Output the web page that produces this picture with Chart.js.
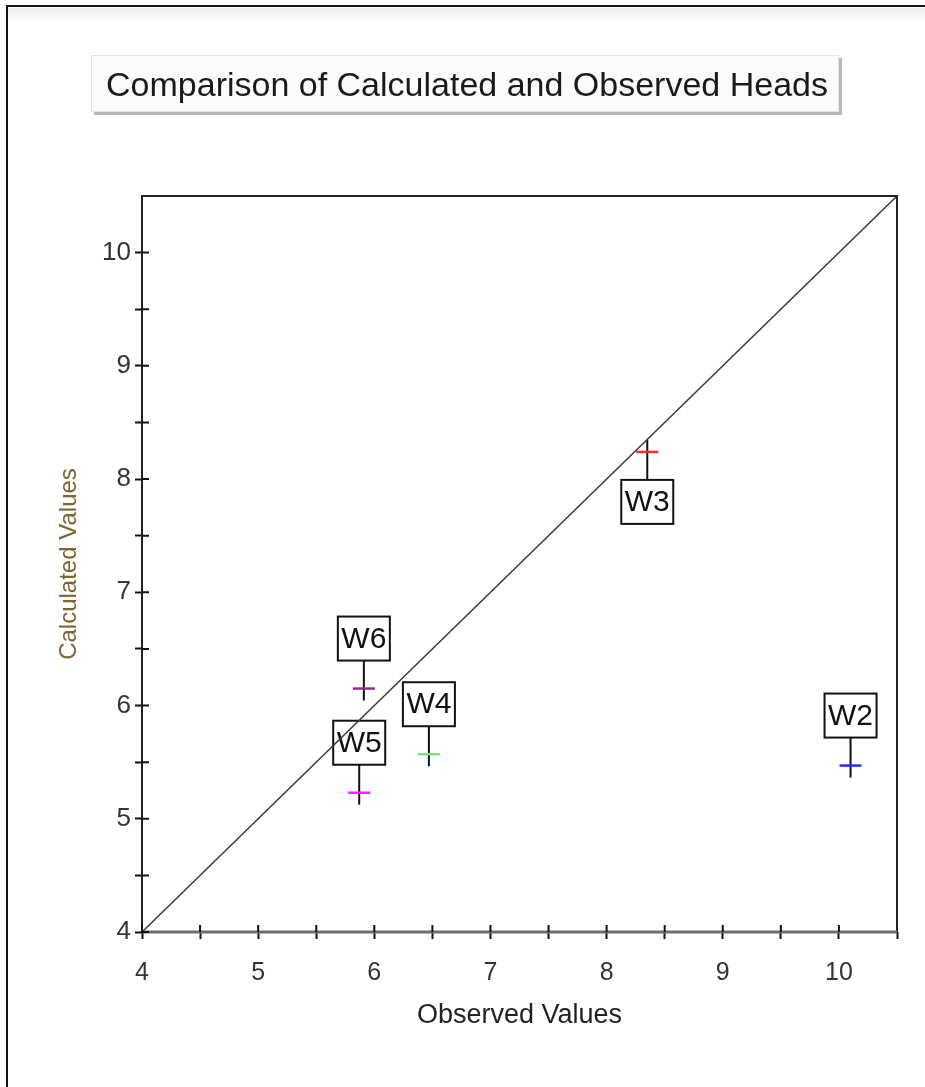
<!DOCTYPE html>
<html>
<head>
<meta charset="utf-8">
<title>Comparison of Calculated and Observed Heads</title>
<script src="https://cdn.jsdelivr.net/npm/chart.js@4.4.1/dist/chart.umd.min.js"></script>
<style>
  html, body { margin: 0; padding: 0; background: #fff; }
  #wrap { width: 925px; height: 1087px; }
</style>
</head>
<body>
<div id="wrap"><canvas id="headsChart" width="925" height="1087"></canvas></div>
<script>
// observation wells and their heads
const wellNames = ["W2", "W3", "W4", "W5", "W6"];
const observedHeads = [10.10, 8.35, 6.47, 5.87, 5.91];
const calculatedHeads = [5.47, 8.24, 5.57, 5.23, 6.15];

// 1:1 reference line
const lineX = [4, 10.5];
const lineY = [4, 10.5];

const axisMin = 4;
const axisMax = 10.5;
const tickStep = 0.5;

// marker colours per well
const wellColors = ["#2a2aff", "#ff2a2a", "#7fe07f", "#ff20ff", "#8c2f8c"];
// wells whose tag sits under the marker instead of above it
const tagBelow = new Set(["W3"]);

const FONT = "'Liberation Sans', Arial, sans-serif";

// frame, title box and well tags drawn around the chart
const decorations = {
  id: "decorations",
  beforeDraw(chart) {
    const ctx = chart.ctx;
    ctx.save();
    ctx.fillStyle = "#fff";
    ctx.fillRect(0, 0, chart.width, chart.height);

    // faint band under the top frame line
    const g = ctx.createLinearGradient(0, 7, 0, 22);
    g.addColorStop(0, "#ececec");
    g.addColorStop(1, "#ffffff");
    ctx.fillStyle = g;
    ctx.fillRect(8, 8, chart.width, 14);

    ctx.strokeStyle = "#111";
    ctx.lineWidth = 2;
    ctx.beginPath();
    ctx.moveTo(7, chart.height);
    ctx.lineTo(7, 6);
    ctx.lineTo(chart.width, 6);
    ctx.stroke();

    // title box with a soft drop shadow
    const bx = 91, by = 55, bw = 748, bh = 57;
    ctx.fillStyle = "#b8b8b8";
    ctx.fillRect(bx + 3, by + 3, bw, bh);
    ctx.fillStyle = "#fbfbfb";
    ctx.fillRect(bx, by, bw, bh);
    ctx.strokeStyle = "#e4e4e4";
    ctx.lineWidth = 1;
    ctx.strokeRect(bx + 0.5, by + 0.5, bw - 1, bh - 1);

    ctx.fillStyle = "#1a1a1a";
    ctx.font = "34px " + FONT;
    ctx.textAlign = "center";
    ctx.textBaseline = "alphabetic";
    ctx.fillText("Comparison of Calculated and Observed Heads", bx + bw / 2 + 2, 96);
    ctx.restore();
  },

  beforeDatasetsDraw(chart) {
    const ctx = chart.ctx;
    const xs = chart.scales.x, ys = chart.scales.y;
    ctx.save();
    wellNames.forEach((name, i) => {
      const px = xs.getPixelForValue(observedHeads[i]);
      const py = ys.getPixelForValue(calculatedHeads[i]);
      const below = tagBelow.has(name);
      const w = 52, h = 44, gap = 28, over = 12;
      const top = below ? py + gap : py - gap - h;

      // leader line runs through the marker
      ctx.strokeStyle = "#111";
      ctx.lineWidth = 2;
      ctx.beginPath();
      if (below) {
        ctx.moveTo(px, py - over);
        ctx.lineTo(px, top);
      } else {
        ctx.moveTo(px, top + h);
        ctx.lineTo(px, py + over);
      }
      ctx.stroke();

      ctx.fillStyle = "#fff";
      ctx.fillRect(px - w / 2, top, w, h);
      ctx.strokeRect(px - w / 2, top, w, h);

      ctx.fillStyle = "#111";
      ctx.font = "30px " + FONT;
      ctx.textAlign = "center";
      ctx.textBaseline = "middle";
      ctx.fillText(name, px, top + h / 2 + 1);
    });
    ctx.restore();
  },

  afterDatasetsDraw(chart) {
    const ctx = chart.ctx;
    const a = chart.chartArea;
    const xs = chart.scales.x, ys = chart.scales.y;
    ctx.save();

    // plot frame: dark top/right/left, heavier grey base line
    ctx.strokeStyle = "#222";
    ctx.lineWidth = 2;
    ctx.beginPath();
    ctx.moveTo(a.left, a.bottom);
    ctx.lineTo(a.left, a.top);
    ctx.lineTo(a.right, a.top);
    ctx.lineTo(a.right, a.bottom);
    ctx.stroke();

    ctx.strokeStyle = "#6e6e6e";
    ctx.lineWidth = 3;
    ctx.beginPath();
    ctx.moveTo(a.left, a.bottom);
    ctx.lineTo(a.right, a.bottom);
    ctx.stroke();

    // inner half of the cross ticks
    ctx.strokeStyle = "#111";
    ctx.lineWidth = 2;
    ctx.beginPath();
    xs.ticks.forEach(t => {
      if (t.value >= axisMax) return;
      const x = xs.getPixelForValue(t.value);
      ctx.moveTo(x, a.bottom);
      ctx.lineTo(x, a.bottom - 7);
    });
    ys.ticks.forEach(t => {
      if (t.value >= axisMax) return;
      const y = ys.getPixelForValue(t.value);
      ctx.moveTo(a.left, y);
      ctx.lineTo(a.left + 7, y);
    });
    ctx.stroke();
    ctx.restore();
  }
};

const tickLabel = v => Number.isInteger(v) ? String(v) : "";

new Chart(document.getElementById("headsChart"), {
  type: "scatter",
  data: {
    datasets: [
      {
        type: "line",
        label: "1:1",
        data: lineX.map((x, i) => ({ x, y: lineY[i] })),
        borderColor: "#3a3a3a",
        borderWidth: 1.5,
        pointRadius: 0,
        fill: false
      },
      {
        label: "Wells",
        data: observedHeads.map((x, i) => ({ x, y: calculatedHeads[i] })),
        pointStyle: "line",
        pointRadius: 11,
        pointBorderWidth: 2.5,
        pointBorderColor: wellColors,
        pointBackgroundColor: wellColors
      }
    ]
  },
  options: {
    responsive: false,
    animation: false,
    layout: { padding: { top: 196, right: 28, bottom: 0, left: 0 } },
    plugins: {
      legend: { display: false },
      tooltip: { enabled: false }
    },
    scales: {
      x: {
        type: "linear",
        min: axisMin,
        max: axisMax,
        border: { display: false },
        grid: {
          drawOnChartArea: false,
          drawTicks: true,
          tickLength: 7,
          tickWidth: 2,
          tickColor: "#111"
        },
        ticks: {
          stepSize: tickStep,
          autoSkip: false,
          maxRotation: 0,
          padding: 19,
          color: "#333",
          font: { family: FONT, size: 25 },
          callback: tickLabel
        },
        title: {
          display: true,
          text: "Observed Values",
          color: "#222",
          font: { family: FONT, size: 27 },
          padding: { top: 0, bottom: 55 }
        },
        afterFit(scale) { scale.height = 155; }
      },
      y: {
        type: "linear",
        min: axisMin,
        max: axisMax,
        border: { display: false },
        grid: {
          drawOnChartArea: false,
          drawTicks: true,
          tickLength: 7,
          tickWidth: 2,
          tickColor: ctx => (ctx.tick && ctx.tick.value >= axisMax) ? "rgba(0,0,0,0)" : "#111"
        },
        ticks: {
          stepSize: tickStep,
          autoSkip: false,
          padding: 4,
          color: "#333",
          font: { family: FONT, size: 26 },
          callback: tickLabel
        },
        title: {
          display: true,
          text: "Calculated Values",
          color: "#7d6430",
          font: { family: FONT, size: 24 },
          padding: { top: 55, bottom: 0 }
        },
        afterFit(scale) { scale.width = 142; }
      }
    }
  },
  plugins: [decorations]
});
</script>
</body>
</html>
